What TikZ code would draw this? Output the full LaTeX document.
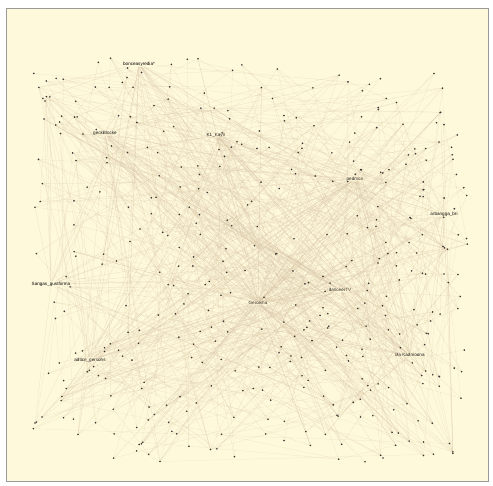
\documentclass[tikz,border=0pt]{standalone}
\usepackage{fontspec}
\setsansfont{Liberation Sans}
\usetikzlibrary{positioning}

\definecolor{paper}{HTML}{FFF9DC}
\definecolor{edgetan}{HTML}{D9C4A6}
\definecolor{dotgray}{HTML}{3A3530}

\begin{document}
\begin{tikzpicture}[
    x=1pt, y=-1pt,
    dot/.style={circle, fill=dotgray, inner sep=0pt, minimum size=1.8pt},
    hub/.style={inner sep=0.5pt, font=\fontsize{4.6}{5}\selectfont\sffamily, text=black},
    link/.style={draw=edgetan, line width=0.25pt, opacity=0.4},
    hublink/.style={draw=edgetan, line width=0.3pt, opacity=0.45}
]
\useasboundingbox (0,0) rectangle (493,485);

% Frame
\fill[white] (0,0) rectangle (493,485);
\draw[fill=paper, draw=gray!80] (6,8) rectangle (488,481);

% Vertices
\pgfmathsetseed{4711}
\foreach \i in {1,...,420}{
  \pgfmathsetmacro\px{32+436*rnd}
  \pgfmathsetmacro\py{58+404*rnd}
  \coordinate (n\i) at (\px,\py);
}

% Labelled hubs
\node[hub] (bonce) at (139,64) {bonceasyredia*};
\node[hub] (gecko) at (105,133) {geckBlocke};
\node[hub] (kayn) at (216,135) {K1\_Kayn};
\node[hub] (pedmon) at (355,179) {pedmon};
\node[hub] (arbang) at (444,214) {arbangga\_bri};
\node[hub] (sangas) at (51,284) {Sangas\_gustforma};
\node[hub] (gerol) at (258,303) {Gerolsha};
\node[hub] (dance) at (340,290) {danceerTV};
\node[hub] (adtice) at (90,360) {adtice\_gersohs};
\node[hub] (bakad) at (410,355) {Ba Kadmoona};

% Edges between vertices
\foreach \k in {1,...,520}{
  \pgfmathtruncatemacro\a{1+419*rnd}
  \pgfmathtruncatemacro\b{1+419*rnd}
  \draw[link] (n\a) -- (n\b);
}

% Edges from hubs
\foreach \h/\m in {gerol/70,pedmon/45,dance/35,kayn/30,gecko/25,bonce/25,bakad/25,adtice/22,sangas/22,arbang/20}{
  \foreach \k in {1,...,\m}{
    \pgfmathtruncatemacro\a{1+419*rnd}
    \draw[hublink] (\h) -- (n\a);
  }
}

% Dots on top
\foreach \i in {1,...,420}{
  \node[dot] (v\i) at (n\i) {};
}

\end{tikzpicture}
\end{document}
